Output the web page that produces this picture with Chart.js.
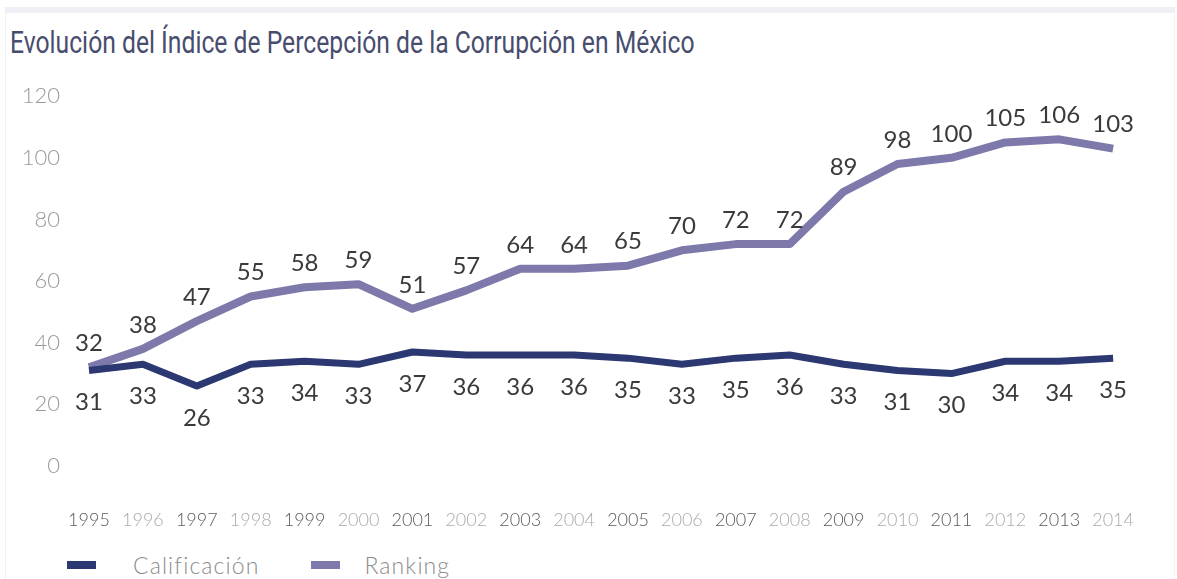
<!DOCTYPE html>
<html lang="es">
<head>
<meta charset="utf-8">
<title>Índice de Percepción de la Corrupción</title>
<script src="https://cdn.jsdelivr.net/npm/chart.js@4.4.1/dist/chart.umd.min.js"></script>
<style>
  html, body { margin: 0; padding: 0; background: #fff; }
  body { width: 1177px; height: 579px; position: relative; overflow: hidden; font-family: Lato, "Open Sans", sans-serif; }
  .frame { position: absolute; left: 5px; top: 7px; right: 2px; bottom: 0; border-left: 1px solid #eef0f4; border-right: 1px solid #f2f3f6; }
  .band { position: absolute; left: 5px; right: 2px; top: 7px; height: 6px; background: #eef0f6; }
  h1 { position: absolute; left: 10px; top: 28px; margin: 0; font: 400 31px/30px Roboto, sans-serif; color: #484d6e; white-space: nowrap; transform-origin: 0 50%; }
  .chart-box { position: absolute; left: 0; top: 54px; width: 1177px; height: 486px; }
  .legend { position: absolute; top: 551px; left: 67px; display: flex; align-items: center; font-size: 23px; letter-spacing: 1.1px; color: #8c8c8c; font-weight: 300; }
  .legend span.sw { display: inline-block; width: 29px; height: 8px; }
  .legend span.item { white-space: nowrap; }
</style>
</head>
<body>
<div class="frame"></div>
<div class="band"></div>
<h1 id="title">Evolución del Índice de Percepción de la Corrupción en México</h1>
<div class="chart-box"><canvas id="ipc-chart" width="1177" height="486"></canvas></div>
<div class="legend" id="legend"></div>
<script>
// Años y series del índice
const years = ['1995', '1996', '1997', '1998', '1999', '2000', '2001', '2002', '2003', '2004',
  '2005', '2006', '2007', '2008', '2009', '2010', '2011', '2012', '2013', '2014'];
const calificacion = [31, 33, 26, 33, 34, 33, 37, 36, 36, 36, 35, 33, 35, 36, 33, 31, 30, 34, 34, 35];
const ranking = [32, 38, 47, 55, 58, 59, 51, 57, 64, 64, 65, 70, 72, 72, 89, 98, 100, 105, 106, 103];
const yTicks = [0, 20, 40, 60, 80, 100, 120];

const seriesNames = ['Calificación', 'Ranking'];
const seriesColors = ['#2c3872', '#7d7aab'];

// título condensado al ancho de la cabecera
const title = document.getElementById('title');
title.style.transform = 'scaleX(' + (685 / title.offsetWidth) + ')';

// etiquetas de valor encima (ranking) o debajo (calificación) de cada punto
const valueLabels = {
  id: 'valueLabels',
  afterDatasetsDraw(chart) {
    const ctx = chart.ctx;
    ctx.save();
    ctx.font = '400 24px Lato, sans-serif';
    ctx.fillStyle = '#3a3a3a';
    ctx.textAlign = 'center';
    ctx.textBaseline = 'middle';
    chart.data.datasets.forEach((ds, i) => {
      const meta = chart.getDatasetMeta(i);
      const dy = i === 0 ? 32 : -24;
      meta.data.forEach((pt, j) => {
        ctx.fillText(String(ds.data[j]), pt.x, pt.y + dy);
      });
    });
    ctx.restore();
  }
};

const ctx = document.getElementById('ipc-chart').getContext('2d');
new Chart(ctx, {
  type: 'line',
  data: {
    labels: years,
    datasets: [
      {
        label: seriesNames[0],
        data: calificacion,
        borderColor: seriesColors[0],
        backgroundColor: seriesColors[0],
        borderWidth: 7,
        pointRadius: 0,
        tension: 0,
        borderJoinStyle: 'round',
        borderCapStyle: 'butt'
      },
      {
        label: seriesNames[1],
        data: ranking,
        borderColor: seriesColors[1],
        backgroundColor: seriesColors[1],
        borderWidth: 8,
        pointRadius: 0,
        tension: 0,
        borderJoinStyle: 'round',
        borderCapStyle: 'butt'
      }
    ]
  },
  options: {
    responsive: false,
    animation: false,
    layout: { padding: { top: 27, right: 29, bottom: 0, left: 0 } },
    plugins: {
      legend: { display: false },
      title: { display: false },
      tooltip: { enabled: false }
    },
    scales: {
      x: {
        offset: false,
        grid: { display: false, drawTicks: false },
        border: { display: false },
        ticks: {
          padding: 43,
          maxRotation: 0,
          autoSkip: false,
          font: { family: 'Lato', size: 18, weight: '300' },
          color: (c) => (c.index % 2 === 0 ? '#5a5a5a' : '#aaa')
        },
        afterFit(scale) { scale.height = 74; }
      },
      y: {
        min: 0,
        max: 120,
        afterBuildTicks(scale) { scale.ticks = yTicks.map(v => ({ value: v })); },
        grid: { display: false, drawTicks: false },
        border: { display: false },
        ticks: {
          padding: 29,
          font: { family: 'Lato', size: 22, weight: '300' },
          color: '#999'
        },
        afterFit(scale) { scale.width = 89; }
      }
    }
  },
  plugins: [valueLabels]
});

// leyenda: muestra de color + nombre de la serie
const legend = document.getElementById('legend');
const swatchGap = [37, 24];
const itemGap = [52, 0];
seriesNames.forEach((name, i) => {
  const sw = document.createElement('span');
  sw.className = 'sw';
  sw.style.background = seriesColors[i];
  sw.style.marginRight = swatchGap[i] + 'px';
  const txt = document.createElement('span');
  txt.className = 'item';
  txt.style.marginRight = itemGap[i] + 'px';
  txt.textContent = name;
  legend.appendChild(sw);
  legend.appendChild(txt);
});
</script>
</body>
</html>
